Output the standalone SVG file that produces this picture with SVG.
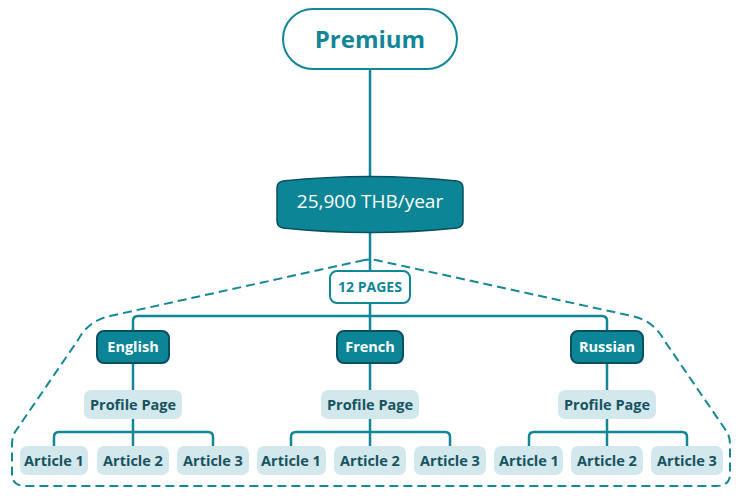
<svg xmlns="http://www.w3.org/2000/svg" width="743" height="496" viewBox="0 0 743 496">
<style>
.ln{fill:none;stroke:#108696;stroke-width:2.5}
.dash{fill:none;stroke:#168795;stroke-width:2;stroke-dasharray:9 5}
.lang rect{fill:#0C8697;stroke:#0B4E5E;stroke-width:2}
.lang text{fill:#fff;font:700 14.5px "Open Sans",sans-serif;text-anchor:middle}
.lt rect{fill:#D2E8EC}
.lt text{fill:#17535F;font:700 14.5px "Open Sans",sans-serif;text-anchor:middle}
</style>
<rect width="743" height="496" fill="#fff"/>
<path class="dash" d="M360 261 Q370 258 380 261 L632 316 Q654 321 664 340 L727 432 Q730 437 730 445 L730 474 Q730 486 716 486 L26 486 Q12 486 12 474 L12 445 Q12 437 15 432 L78 340 Q88 321 110 316 Z"/>
<g id="connectors">
<path class="ln" d="M370 69 V178 M370 233 V272 M370 303 V331 M133 331 V321 Q133 316 138 316 H602 Q607 316 607 321 V331 M133 363 V390 M370 363 V390 M607 363 V390"/>
<path class="ln" d="M133 419 V446 M54 446 V437 Q54 432 59 432 H208 Q213 432 213 437 V446"/>
<path class="ln" d="M370 419 V446 M291 446 V437 Q291 432 296 432 H445 Q450 432 450 437 V446"/>
<path class="ln" d="M607 419 V446 M529 446 V437 Q529 432 534 432 H682 Q687 432 687 437 V446"/>
</g>
<g id="premium">
<rect x="283" y="9" width="174" height="60" rx="30" fill="#fff" stroke="#108696" stroke-width="2"/>
<text x="370" y="48" fill="#108696" font-family="Open Sans, sans-serif" font-weight="700" font-size="24" text-anchor="middle">Premium</text>
</g>
<g id="price">
<path d="M283 181 Q370 172 457 181 Q463 182 463 188 L463 221 Q463 227 457 228 Q370 237 283 228 Q277 227 277 221 L277 188 Q277 182 283 181 Z" fill="#0C8697" stroke="#0B4E5E" stroke-width="1.5"/>
<text x="370" y="208" fill="#fff" font-family="Open Sans, sans-serif" font-size="19" text-anchor="middle">25,900 THB/year</text>
</g>
<g id="pages">
<rect x="330" y="271" width="80" height="32" rx="7" fill="#fff" stroke="#108696" stroke-width="2"/>
<text x="370" y="292" fill="#108696" font-family="Open Sans, sans-serif" font-weight="700" font-size="14" text-anchor="middle">12 PAGES</text>
</g>
<g id="english" class="lang"><rect x="97" y="331" width="72" height="32" rx="7"/><text x="133" y="352">English</text></g>
<g id="french" class="lang"><rect x="337" y="331" width="66" height="32" rx="7"/><text x="370" y="352">French</text></g>
<g id="russian" class="lang"><rect x="571" y="331" width="72" height="32" rx="7"/><text x="607" y="352">Russian</text></g>
<g id="profile-en" class="lt"><rect x="84" y="390" width="98" height="29" rx="7"/><text x="133" y="410">Profile Page</text></g>
<g id="profile-fr" class="lt"><rect x="321" y="390" width="98" height="29" rx="7"/><text x="370" y="410">Profile Page</text></g>
<g id="profile-ru" class="lt"><rect x="558" y="390" width="98" height="29" rx="7"/><text x="607" y="410">Profile Page</text></g>
<g id="en-a1" class="lt"><rect x="20" y="446" width="68" height="29" rx="7"/><text x="54" y="466">Article 1</text></g>
<g id="en-a2" class="lt"><rect x="97" y="446" width="72" height="29" rx="7"/><text x="133" y="466">Article 2</text></g>
<g id="en-a3" class="lt"><rect x="177" y="446" width="72" height="29" rx="7"/><text x="213" y="466">Article 3</text></g>
<g id="fr-a1" class="lt"><rect x="257" y="446" width="69" height="29" rx="7"/><text x="291" y="466">Article 1</text></g>
<g id="fr-a2" class="lt"><rect x="334" y="446" width="72" height="29" rx="7"/><text x="370" y="466">Article 2</text></g>
<g id="fr-a3" class="lt"><rect x="414" y="446" width="72" height="29" rx="7"/><text x="450" y="466">Article 3</text></g>
<g id="ru-a1" class="lt"><rect x="494" y="446" width="69" height="29" rx="7"/><text x="529" y="466">Article 1</text></g>
<g id="ru-a2" class="lt"><rect x="571" y="446" width="72" height="29" rx="7"/><text x="607" y="466">Article 2</text></g>
<g id="ru-a3" class="lt"><rect x="651" y="446" width="72" height="29" rx="7"/><text x="687" y="466">Article 3</text></g>
</svg>
